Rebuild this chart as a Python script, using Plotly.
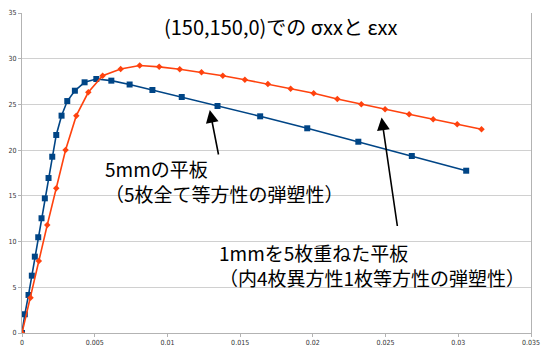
import plotly.graph_objects as go

# Blue: 5mm plate (all 5 layers isotropic elasto-plastic)
strain_5mm = [0.0, 0.000193, 0.000448, 0.000675, 0.000882, 0.001116, 0.001343, 0.00157,
              0.001825, 0.00208, 0.002355, 0.00272, 0.003113, 0.003636, 0.004304, 0.00511,
              0.006143, 0.0074, 0.008967, 0.010985, 0.013444, 0.016377, 0.019614, 0.023127,
              0.026804, 0.030544]
stress_5mm = [0.0, 2.05, 4.16, 6.27, 8.35, 10.47, 12.55, 14.73, 16.95, 19.28, 21.66, 23.77,
              25.37, 26.5, 27.42, 27.78, 27.6, 27.18, 26.58, 25.81, 24.83, 23.7, 22.39, 20.92,
              19.36, 17.75]

# Orange: 5 x 1mm stacked plate
strain_1mm = [0.0, 0.000585, 0.001157, 0.001736, 0.002355, 0.002996, 0.003733, 0.004559,
              0.005544, 0.006784, 0.008092, 0.009435, 0.010847, 0.012342, 0.013809, 0.015324,
              0.016908, 0.018471, 0.020055, 0.02168, 0.023333, 0.024966, 0.026618, 0.028272,
              0.029924, 0.031598]
stress_1mm = [0.0, 3.86, 7.87, 11.81, 15.83, 20.01, 23.77, 26.33, 28.14, 28.87, 29.26, 29.11,
              28.85, 28.51, 28.14, 27.7, 27.23, 26.72, 26.22, 25.59, 25.01, 24.47, 23.92, 23.37,
              22.83, 22.28]

x_ticks = [0, 0.005, 0.01, 0.015, 0.02, 0.025, 0.03, 0.035]
x_tick_labels = ["0", "0.005", "0.01", "0.015", "0.02", "0.025", "0.03", "0.035"]
y_ticks = [0, 5, 10, 15, 20, 25, 30, 35]
y_tick_labels = ["0", "5", "10", "15", "20", "25", "30", "35"]

title_text = "(150,150,0)での σxxと εxx"
label_5mm = ["5mmの平板", "（5枚全て等方性の弾塑性）"]
label_1mm = ["1mmを5枚重ねた平板", "（内4枚異方性1枚等方性の弾塑性）"]

# arrow tips (data) and tail offsets (pixels)
arrow_tips = [(0.012913, 24.39), (0.024725, 23.57)]
arrow_tails = [(9, 46), (16, 110)]

W, H = 549, 352
ml, mr, mt, mb = 22, 18, 13, 19
pw, ph = W - ml - mr, H - mt - mb

def px(x):
    return (x - ml) / pw

def py(y):
    return (H - mb - y) / ph

fig = go.Figure()
fig.add_trace(go.Scatter(x=strain_5mm, y=stress_5mm, mode="lines+markers",
                         line=dict(color="#004586", width=1.6),
                         marker=dict(symbol="square", size=6, color="#004586"),
                         showlegend=False))
fig.add_trace(go.Scatter(x=strain_1mm, y=stress_1mm, mode="lines+markers",
                         line=dict(color="#ff420e", width=1.6),
                         marker=dict(symbol="diamond", size=5, color="#ff420e"),
                         showlegend=False))

font_main = "Noto Sans CJK JP, DejaVu Sans, sans-serif"
ann = []
ann.append(dict(text=title_text, xref="paper", yref="paper", x=px(280), y=py(26),
                xanchor="center", yanchor="middle", showarrow=False,
                font=dict(size=20, color="#000", family=font_main)))
ann.append(dict(text="<br>".join(label_5mm), xref="paper", yref="paper", x=px(103), y=py(181),
                xanchor="left", yanchor="middle", align="left", showarrow=False,
                font=dict(size=19, color="#000", family=font_main)))
ann.append(dict(text="<br>".join(label_1mm), xref="paper", yref="paper", x=px(217), y=py(265),
                xanchor="left", yanchor="middle", align="left", showarrow=False,
                font=dict(size=19, color="#000", family=font_main)))
for (tx, ty), (ax, ay) in zip(arrow_tips, arrow_tails):
    ann.append(dict(x=tx, y=ty, xref="x", yref="y", ax=ax, ay=ay, text="",
                    showarrow=True, arrowhead=2, arrowsize=1.6, arrowwidth=1.6,
                    arrowcolor="#000", standoff=0))

fig.update_layout(
    width=W, height=H, margin=dict(l=ml, r=mr, t=mt, b=mb),
    paper_bgcolor="white", plot_bgcolor="white",
    annotations=ann,
    xaxis=dict(range=[0, 0.035], tickvals=x_ticks, ticktext=x_tick_labels, automargin=False,
               showgrid=False, zeroline=False, showline=True, linecolor="#b3b3b3",
               linewidth=1, ticks="outside", ticklen=3, tickcolor="#b3b3b3",
               tickfont=dict(size=7, color="#333", family="DejaVu Sans Condensed, DejaVu Sans")),
    yaxis=dict(range=[0, 35], tickvals=y_ticks, ticktext=y_tick_labels, automargin=False,
               showgrid=True, gridcolor="#d0d0d0", gridwidth=1, zeroline=False,
               showline=True, linecolor="#b3b3b3", linewidth=1, mirror=True,
               ticks="outside", ticklen=3, tickcolor="#b3b3b3",
               tickfont=dict(size=7, color="#333", family="DejaVu Sans Condensed, DejaVu Sans")),
)

fig.write_html("out.html")
